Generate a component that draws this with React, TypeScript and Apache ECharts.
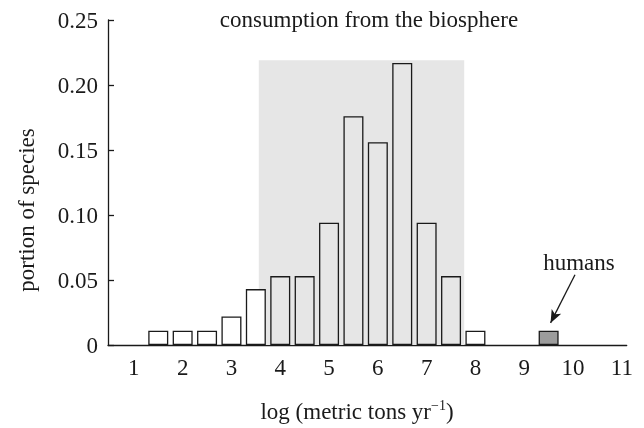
import React, { useEffect, useRef } from 'react';
import * as echarts from 'echarts';

// ---- data ----
const binCenters = [1.5, 2, 2.5, 3, 3.5, 4, 4.5, 5, 5.5, 6, 6.5, 7, 7.5, 8];
const portions = [0.011, 0.011, 0.011, 0.022, 0.043, 0.053, 0.053, 0.094, 0.176, 0.156, 0.217, 0.094, 0.053, 0.011];
const humanCenter = 9.5;
const humanPortion = 0.011;
const xTickLabels = [1, 2, 3, 4, 5, 6, 7, 8, 9, 10, 11];
const shadeRange = [3.56, 7.77];
const shadeTop = 0.219;
const arrowFrom = [10.04, 0.054];
const arrowTo = [9.54, 0.017];

const FONT = '"Liberation Serif", "Times New Roman", Times, serif';
const FS = 23;
const INK = '#1a1a1a';

export default function App() {
  const ref = useRef<HTMLDivElement>(null);
  useEffect(() => {
    if (!ref.current) return;
    const chart = echarts.init(ref.current, undefined, { renderer: 'svg' });
    const barData: any[] = binCenters.map((x, i) => {
      const inside = x - 0.25 >= shadeRange[0] && x + 0.25 <= shadeRange[1] + 0.05;
      return {
        value: [x, portions[i]],
        itemStyle: { color: inside ? 'rgba(0,0,0,0)' : '#ffffff' },
      };
    });
    barData.push({ value: [humanCenter, humanPortion], itemStyle: { color: '#9c9c9c' } });

    chart.setOption({
      animation: false,
      grid: { left: 108, right: 17.3, top: 20, bottom: 83, containLabel: false },
      xAxis: {
        type: 'value',
        min: 0.47,
        max: 11.1,
        axisLine: { show: true, onZero: false, lineStyle: { color: INK, width: 1.3 } },
        axisTick: { show: false },
        splitLine: { show: false },
        axisLabel: {
          customValues: xTickLabels,
          margin: 11,
          color: INK,
          fontSize: FS,
          fontFamily: FONT,
          formatter: (v: number) => String(v),
        },
      },
      yAxis: {
        type: 'value',
        min: 0,
        max: 0.25,
        interval: 0.05,
        axisLine: { show: true, lineStyle: { color: INK, width: 1.3 } },
        axisTick: { show: true, inside: true, length: 6, lineStyle: { color: INK, width: 1.3 } },
        splitLine: { show: false },
        axisLabel: {
          margin: 10,
          color: INK,
          fontSize: FS,
          fontFamily: FONT,
          formatter: (v: number) => (v === 0 ? '0' : v.toFixed(2)),
        },
      },
      series: [
        {
          type: 'line',
          z: 1,
          data: [],
          silent: true,
          markArea: {
            silent: true,
            itemStyle: { color: '#e6e6e6' },
            data: [[{ coord: [shadeRange[0], 0] }, { coord: [shadeRange[1], shadeTop] }]],
          },
        },
        {
          type: 'bar',
          z: 3,
          barWidth: 20,
          data: barData,
          silent: true,
          itemStyle: { borderColor: INK, borderWidth: 1.3 },
          markLine: {
            silent: true,
            symbol: ['none', 'arrow'],
            symbolSize: [8, 13],
            label: { show: false },
            lineStyle: { color: INK, width: 1.3, type: 'solid' },
            data: [[{ coord: arrowFrom }, { coord: arrowTo }]],
          },
        },
      ],
      graphic: [
        {
          type: 'text',
          x: 369,
          y: 19,
          style: {
            text: 'consumption from the biosphere',
            fontSize: FS,
            fontFamily: FONT,
            fill: INK,
            align: 'center',
            verticalAlign: 'middle',
          },
        },
        {
          type: 'text',
          x: 579,
          y: 262,
          style: {
            text: 'humans',
            fontSize: FS,
            fontFamily: FONT,
            fill: INK,
            align: 'center',
            verticalAlign: 'middle',
          },
        },
        {
          type: 'text',
          x: 26,
          y: 210,
          rotation: Math.PI / 2,
          style: {
            text: 'portion of species',
            fontSize: FS,
            fontFamily: FONT,
            fill: INK,
            align: 'center',
            verticalAlign: 'middle',
          },
        },
        {
          type: 'text',
          x: 357,
          y: 411,
          style: {
            text: '{a|log (metric tons yr}{s|−1}{a|)}',
            fill: INK,
            align: 'center',
            verticalAlign: 'middle',
            rich: {
              a: { fontSize: FS, fontFamily: FONT, fill: INK, lineHeight: 26 },
              s: { fontSize: 14, fontFamily: FONT, fill: INK, verticalAlign: 'top', lineHeight: 14 },
            },
          },
        },
      ],
    });
    return () => chart.dispose();
  }, []);
  return <div ref={ref} style={{ position: 'fixed', left: 0, top: 0, width: 644, height: 428 }} />;
}
